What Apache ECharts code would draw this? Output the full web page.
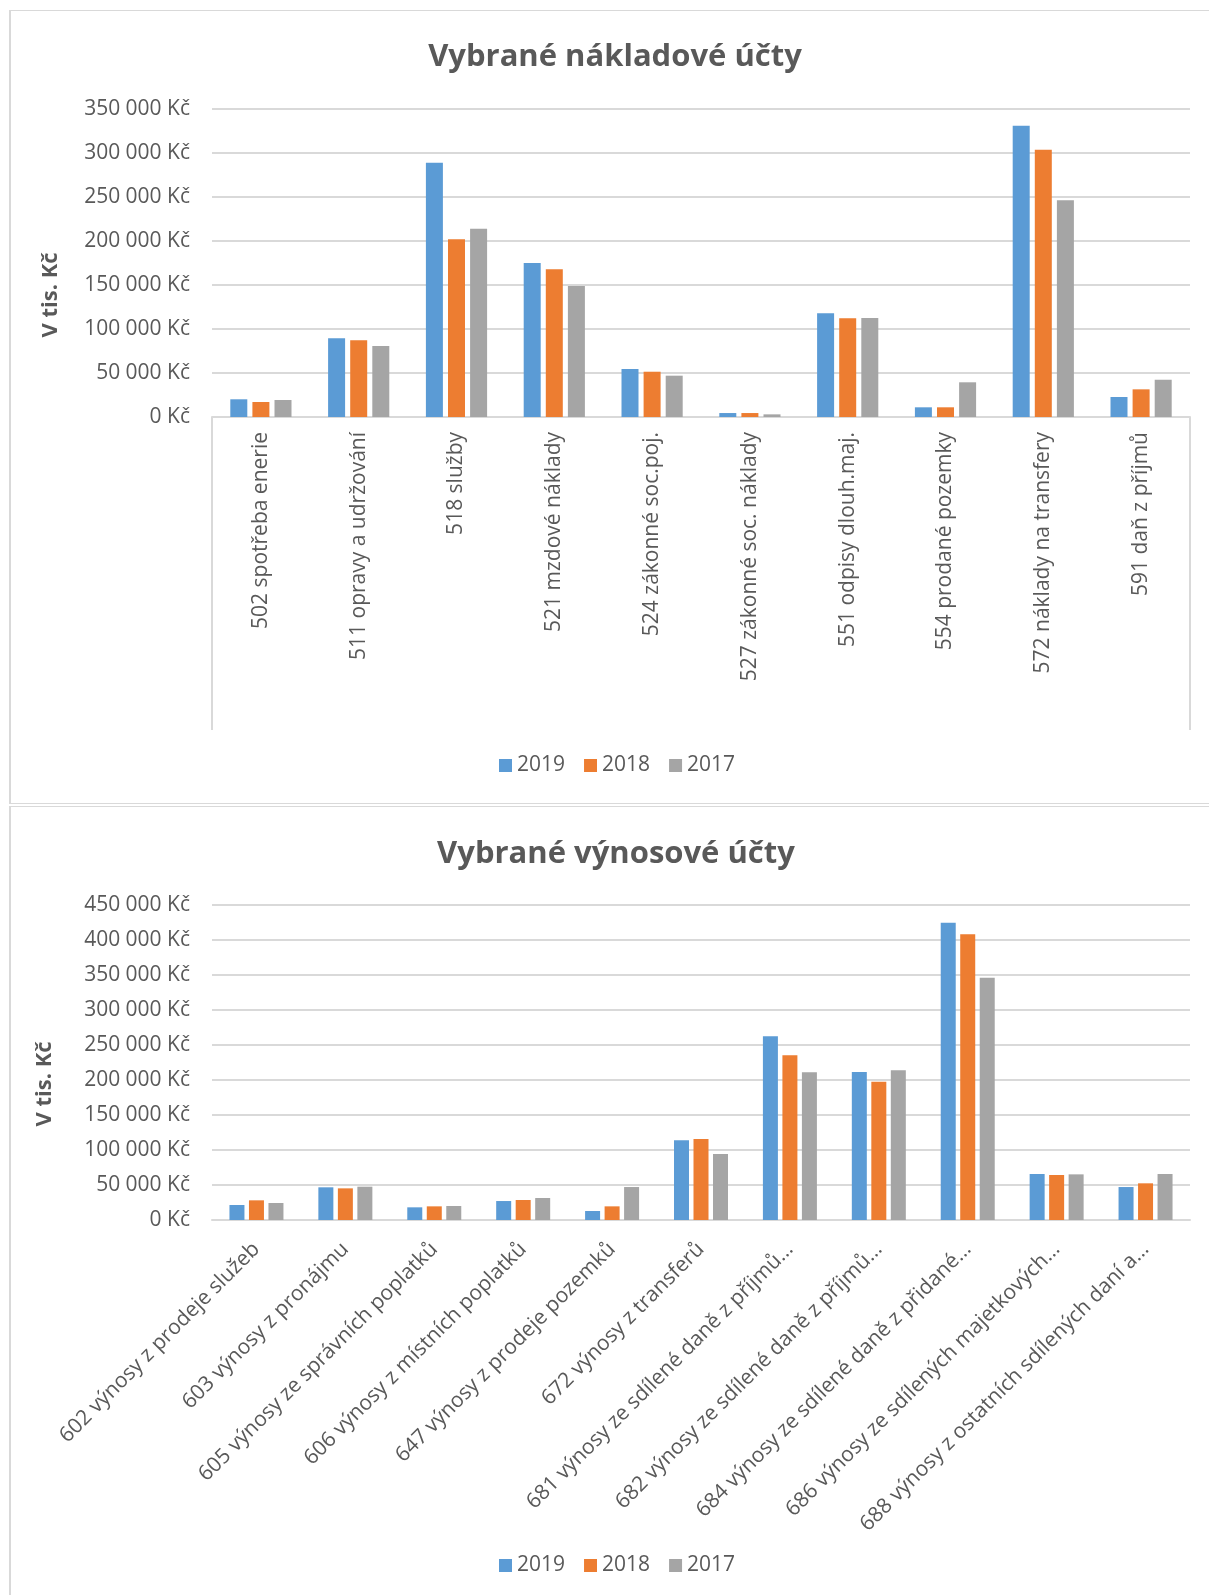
<!DOCTYPE html>
<html>
<head>
<meta charset="utf-8">
<script src="https://cdn.jsdelivr.net/npm/echarts@6/dist/echarts.min.js"></script>
<style>
  html, body { margin: 0; padding: 0; background: #ffffff; overflow: hidden; }
  #wrap { position: relative; width: 1209px; height: 1595px; }
  #chart { position: absolute; left: 0; top: 0; width: 1209px; height: 1595px; }
  .frame { position: absolute; border-style: solid; border-color: #d9d9d9; border-right-width: 0; }
  .vline { position: absolute; width: 2px; background: #d9d9d9; }
</style>
</head>
<body>
<div id="wrap">
  <div class="frame" style="left:9px; top:10px; width:1300px; height:792px; border-width:1px 0 1px 2px;"></div>
  <div class="frame" style="left:9px; top:806px; width:1300px; height:900px; border-width:1px 0 0 2px;"></div>
  <div class="vline" style="left:211px; top:417px; height:313px;"></div>
  <div class="vline" style="left:1189px; top:417px; height:313px;"></div>
  <div id="chart"></div>
</div>
<script>
// ---- Data: Vybrané nákladové účty (costs) ----
const costCategories = [
  '502 spotřeba enerie',
  '511 opravy a udržování',
  '518 služby',
  '521 mzdové náklady',
  '524 zákonné soc.poj.',
  '527 zákonné soc. náklady',
  '551 odpisy dlouh.maj.',
  '554 prodané pozemky',
  '572 náklady na transfery',
  '591 daň z příjmů'
];
const cost2019 = [20100, 89300, 288700, 174800, 54500, 4500, 117700, 11000, 330600, 22700];
const cost2018 = [17000, 87000, 201700, 167600, 51400, 4500, 112000, 11000, 303400, 31400];
const cost2017 = [19300, 80600, 213700, 148700, 46900, 3000, 112400, 39400, 246000, 42300];

// ---- Data: Vybrané výnosové účty (revenues) ----
const revCategories = [
  '602 výnosy z prodeje služeb',
  '603 výnosy z pronájmu',
  '605 výnosy ze správních poplatků',
  '606 výnosy z místních poplatků',
  '647 výnosy z prodeje pozemků',
  '672 výnosy z transferů',
  '681 výnosy ze sdílené daně z příjmů…',
  '682 výnosy ze sdílené daně z příjmů…',
  '684 výnosy ze sdílené daně z přidané…',
  '686 výnosy ze sdílených majetkových…',
  '688 výnosy z ostatních sdílených daní a…'
];
const rev2019 = [21400, 46700, 18100, 27100, 12900, 113800, 262400, 211400, 424800, 65700, 47100];
const rev2018 = [28100, 45200, 19500, 28600, 19500, 115700, 235200, 197600, 408100, 64300, 52400];
const rev2017 = [24300, 47600, 20000, 31400, 47100, 94300, 211000, 213800, 346200, 65200, 65700];

const seriesNames = ['2019', '2018', '2017'];
const colors = ['#5b9bd5', '#ed7d31', '#a5a5a5'];
const titles = ['Vybrané nákladové účty', 'Vybrané výnosové účty'];
const yAxisName = 'V tis. Kč';

const FONT = "'Open Sans', 'Noto Sans', sans-serif";
const TXT = '#595959';
const GRIDC = '#d9d9d9';

function fmtKc(v) {
  return String(v).replace(/\B(?=(\d{3})+(?!\d))/g, ' ') + ' Kč';
}

const chart = echarts.init(document.getElementById('chart'), null, { renderer: 'canvas' });

function yAxisCfg(gridIndex, max) {
  return {
    type: 'value', gridIndex: gridIndex, min: 0, max: max, interval: 50000,
    axisLine: { show: false }, axisTick: { show: false },
    axisLabel: { formatter: fmtKc, fontFamily: FONT, fontSize: 21, color: TXT, margin: 22 },
    splitLine: { lineStyle: { color: GRIDC, width: 2 } }
  };
}

function xAxisCfg(gridIndex, cats, rotate, margin) {
  return {
    type: 'category', gridIndex: gridIndex, data: cats,
    axisLine: { lineStyle: { color: GRIDC, width: 2 } },
    axisTick: { show: false },
    axisLabel: { interval: 0, rotate: rotate, margin: margin, fontFamily: FONT, fontSize: 21, color: TXT }
  };
}

function barSeries(name, data, idx, axisIndex, width) {
  return {
    type: 'bar', name: name, data: data, xAxisIndex: axisIndex, yAxisIndex: axisIndex,
    barWidth: width, barGap: '30%',
    itemStyle: { color: colors[idx] },
    emphasis: { disabled: true }
  };
}

function axisNameText(x, y) {
  return {
    type: 'text', x: x, y: y, rotation: Math.PI / 2, silent: true,
    style: {
      text: yAxisName, fill: TXT, align: 'center', verticalAlign: 'middle',
      font: "bold 22px 'Open Sans', 'Noto Sans', sans-serif"
    }
  };
}

const legendCommon = {
  data: seriesNames, itemWidth: 13, itemHeight: 13, itemGap: 19,
  icon: 'rect', padding: 0,
  textStyle: { fontFamily: FONT, fontSize: 21, color: TXT }
};

chart.setOption({
  animation: false,
  color: colors,
  textStyle: { fontFamily: FONT },
  title: [
    { text: titles[0], left: 610, top: 37, textAlign: 'center',
      textStyle: { fontFamily: FONT, fontSize: 31, fontWeight: 'bold', color: TXT } },
    { text: titles[1], left: 611, top: 834, textAlign: 'center',
      textStyle: { fontFamily: FONT, fontSize: 31, fontWeight: 'bold', color: TXT } }
  ],
  legend: [
    Object.assign({ left: 499, top: 755 }, legendCommon),
    Object.assign({ left: 499, top: 1555 }, legendCommon)
  ],
  graphic: [
    axisNameText(51, 295),
    axisNameText(45, 1084)
  ],
  grid: [
    { left: 212, right: 19, top: 108.7, height: 308.3 },
    { left: 212, right: 19, top: 905, height: 315 }
  ],
  xAxis: [
    xAxisCfg(0, costCategories, 90, 15),
    xAxisCfg(1, revCategories, 45, 26)
  ],
  yAxis: [
    yAxisCfg(0, 350000),
    yAxisCfg(1, 450000)
  ],
  series: [
    barSeries(seriesNames[0], cost2019, 0, 0, 17),
    barSeries(seriesNames[1], cost2018, 1, 0, 17),
    barSeries(seriesNames[2], cost2017, 2, 0, 17),
    barSeries(seriesNames[0], rev2019, 0, 1, 15),
    barSeries(seriesNames[1], rev2018, 1, 1, 15),
    barSeries(seriesNames[2], rev2017, 2, 1, 15)
  ]
});
</script>
</body>
</html>
